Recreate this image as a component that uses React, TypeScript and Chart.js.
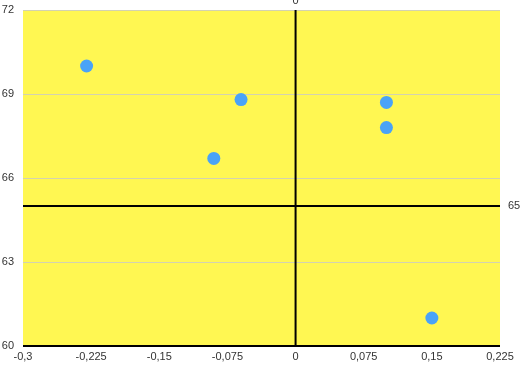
import React, { useEffect, useRef } from "react";
import { Chart, registerables } from "chart.js";

Chart.register(...registerables);

const xValues = [-0.23, -0.06, -0.09, 0.1, 0.1, 0.15];
const yValues = [70, 68.8, 66.7, 68.7, 67.8, 61];
const xTickMin = -0.3;
const xTickMax = 0.225;
const xTickStep = 0.075;
const yTickMin = 60;
const yTickMax = 72;
const yTickStep = 3;
const crossX = 0;
const crossY = 65;

const fmt = (v: number) => {
  const r = Math.round(v * 1000) / 1000;
  return String(r).replace(".", ",");
};

const crossPlugin = {
  id: "crossLines",
  beforeDraw(chart: any) {
    const { ctx, chartArea } = chart;
    ctx.save();
    ctx.fillStyle = "rgb(255,247,82)";
    ctx.fillRect(chartArea.left, chartArea.top, chartArea.right - chartArea.left, chartArea.bottom - chartArea.top);
    ctx.restore();
  },
  afterDatasetsDraw(chart: any) {
    const { ctx, chartArea, scales } = chart;
    const px = scales.x.getPixelForValue(crossX);
    const py = scales.y.getPixelForValue(crossY);
    ctx.save();
    ctx.strokeStyle = "#000";
    ctx.lineWidth = 2;
    ctx.beginPath();
    ctx.moveTo(px, chartArea.top);
    ctx.lineTo(px, chartArea.bottom);
    ctx.moveTo(chartArea.left, py);
    ctx.lineTo(chartArea.right, py);
    ctx.moveTo(chartArea.left, chartArea.bottom);
    ctx.lineTo(chartArea.right, chartArea.bottom);
    ctx.stroke();
    ctx.fillStyle = "#333";
    ctx.font = "11px 'Liberation Sans', Arial, sans-serif";
    ctx.textAlign = "center";
    ctx.textBaseline = "alphabetic";
    ctx.fillText(fmt(crossX), px, 4);
    ctx.textAlign = "left";
    ctx.textBaseline = "middle";
    ctx.fillText(String(crossY), chartArea.right + 8, py);
    ctx.restore();
  },
};

export default function App() {
  const ref = useRef<HTMLCanvasElement | null>(null);
  useEffect(() => {
    document.body.style.margin = "0";
    if (!ref.current) return;
    const chart = new Chart(ref.current, {
      type: "scatter",
      data: {
        datasets: [
          {
            data: xValues.map((x, i) => ({ x, y: yValues[i] })),
            backgroundColor: "rgb(74,163,247)",
            borderColor: "rgb(74,163,247)",
            pointRadius: 6.5,
            pointHoverRadius: 6.5,
            borderWidth: 0,
          },
        ],
      },
      options: {
        animation: false,
        responsive: false,
        maintainAspectRatio: false,
        layout: { padding: { top: 10, right: 28, left: 0, bottom: 0 } },
        plugins: { legend: { display: false }, tooltip: { enabled: false } },
        scales: {
          x: {
            type: "linear",
            min: xTickMin,
            max: xTickMax,
            afterBuildTicks: (scale: any) => {
              const t = [];
              const n = Math.round((xTickMax - xTickMin) / xTickStep);
              for (let i = 0; i <= n; i++) t.push({ value: xTickMin + i * xTickStep });
              scale.ticks = t;
            },
            afterFit: (scale: any) => {
              scale.height = 31;
              scale.paddingLeft = 0;
              scale.paddingRight = 0;
            },
            grid: { display: false, drawTicks: false },
            border: { display: false },
            ticks: {
              padding: 4,
              color: "#333",
              font: { size: 11, family: "'Liberation Sans', Arial, sans-serif" },
              maxRotation: 0,
              autoSkip: false,
              callback: (v: any) => fmt(Number(v)),
            },
          },
          y: {
            type: "linear",
            min: yTickMin,
            max: yTickMax,
            afterBuildTicks: (scale: any) => {
              const t = [];
              for (let v = yTickMin; v <= yTickMax; v += yTickStep) t.push({ value: v });
              scale.ticks = t;
            },
            afterFit: (scale: any) => {
              scale.width = 23;
              scale.paddingTop = 0;
              scale.paddingBottom = 0;
            },
            grid: { color: "rgba(200,200,200,0.8)", drawTicks: false, lineWidth: 1 },
            border: { display: false },
            ticks: {
              padding: 9,
              color: "#333",
              font: { size: 11, family: "'Liberation Sans', Arial, sans-serif" },
              callback: (v: any) => fmt(Number(v)),
            },
          },
        },
      },
      plugins: [crossPlugin],
    });
    return () => chart.destroy();
  }, []);
  return <canvas ref={ref} width={528} height={377} style={{ display: "block" }} />;
}
